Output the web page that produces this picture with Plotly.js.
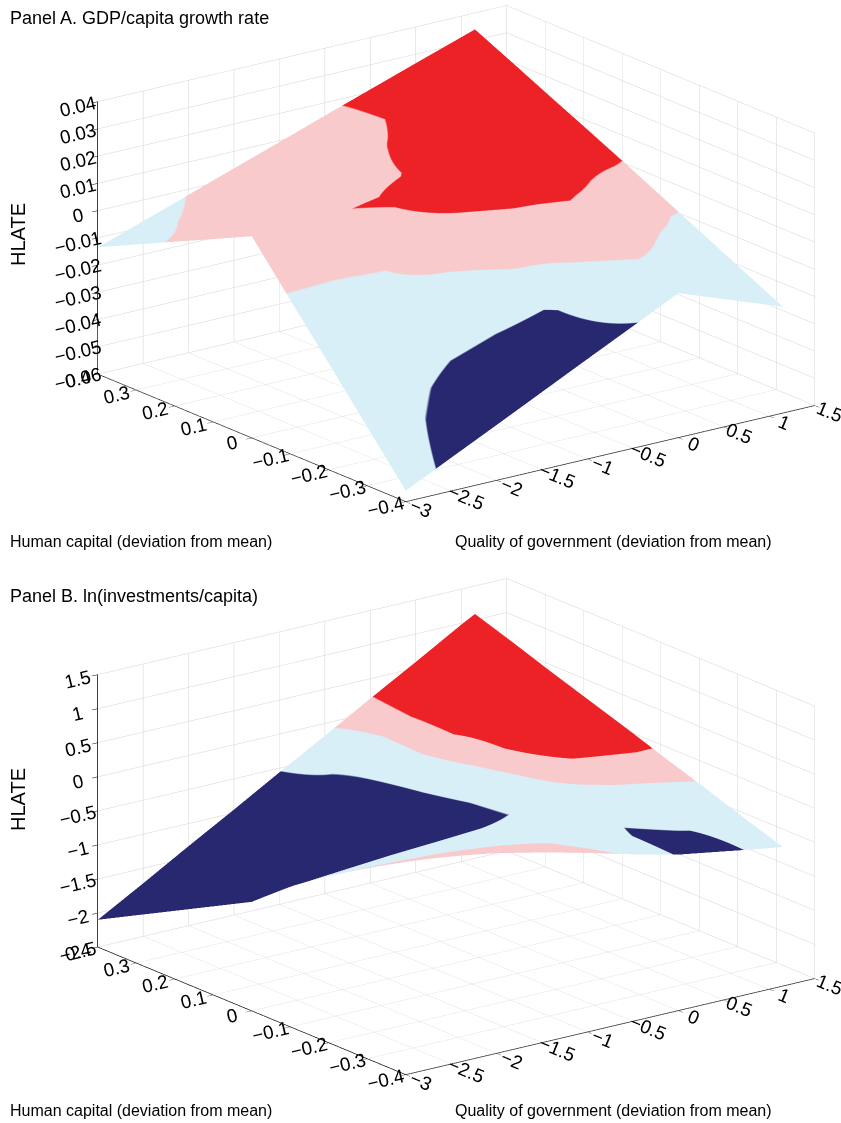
<!DOCTYPE html>
<html><head><meta charset="utf-8">
<script src="https://cdn.plot.ly/plotly-3.0.1.min.js"></script>
<style>html,body{margin:0;padding:0;background:#fff}#chart{width:841px;height:1123px}</style>
</head><body><div id="chart"></div>
<script>
// Grid of the surfaces (columns: quality of government, rows: human capital)
const QOG = [-3, -2.5, -2, -1.5, -1, -0.5, 0, 0.5, 1, 1.15];
const HC = [-0.4, -0.3, -0.2, -0.1, 0, 0.1, 0.2, 0.3, 0.4];

// Panel A: HLATE on GDP/capita growth rate
const ZA = [
  [-0.056, -0.0478, -0.0397, -0.0315, -0.0233, -0.0152, -0.007, -0.0131, -0.0192, -0.021],
  [-0.0385, -0.0322, -0.0259, -0.0196, -0.0133, -0.0070, -0.0008, -0.0065, -0.0123, -0.0140],
  [-0.021, -0.0166, -0.0122, -0.0078, -0.0033, 0.0011, 0.0055, 0.0001, -0.0054, -0.0070],
  [-0.0035, -0.0010, 0.0016, 0.0041, 0.0067, 0.0092, 0.0118, 0.0066, 0.0015, 0.0000],
  [0.014, 0.0147, 0.0153, 0.016, 0.0167, 0.0173, 0.018, 0.0132, 0.0084, 0.007],
  [0.0071, 0.0091, 0.0110, 0.0129, 0.0149, 0.0168, 0.0188, 0.0166, 0.0144, 0.0138],
  [0.0003, 0.0035, 0.0067, 0.0099, 0.0131, 0.0163, 0.0195, 0.0199, 0.0204, 0.0205],
  [-0.0066, -0.0021, 0.0023, 0.0068, 0.0113, 0.0158, 0.0203, 0.0233, 0.0263, 0.0273],
  [-0.0135, -0.0078, -0.0020, 0.0038, 0.0095, 0.0153, 0.021, 0.0267, 0.0323, 0.034]
];
// Panel A significance class (0-1 navy, 1-2 light blue, 2-3 pink, 3-4 red)
const SA = [
  [1.4, 0.8, 0.5, 0.4, 0.5, 0.95, 1.4, 1.3, 1.2, 1.2],
  [1.5, 1.1, 0.85, 0.85, 0.85, 1.6, 1.98, 1.7, 1.5, 1.45],
  [1.7, 1.6, 1.6, 1.6, 1.95, 2.2, 2.5, 2.1, 1.75, 1.75],
  [1.95, 1.98, 2.05, 2.43, 2.6, 2.9, 3.1, 2.7, 2.2, 2.1],
  [2.45, 2.5, 2.95, 3.1, 3.6, 3.8, 3.8, 3.3, 2.98, 2.9],
  [2.4, 2.5, 2.6, 2.6, 2.88, 3.6, 3.8, 3.7, 3.5, 3.4],
  [2.1, 2.3, 2.5, 2.5, 2.6, 3.15, 3.6, 3.7, 3.6, 3.5],
  [1.7, 2.03, 2.3, 2.4, 2.5, 2.7, 3.3, 3.5, 3.4, 3.3],
  [1.4, 1.7, 2.02, 2.3, 2.45, 2.85, 3.2, 3.3, 3.1, 3.05]
];

// Panel B: HLATE on ln(investments/capita)
const ZB = [
  [0.66, 0.55, 0.44, 0.29, 0.13, -0.05, -0.21, -0.32, -0.43, -0.46],
  [0.30, 0.25, 0.20, 0.12, 0.03, -0.07, -0.16, -0.21, -0.25, -0.27],
  [-0.05, -0.04, -0.04, -0.05, -0.07, -0.10, -0.12, -0.10, -0.08, -0.07],
  [-0.44, -0.37, -0.30, -0.24, -0.18, -0.13, -0.07, 0.02, 0.10, 0.12],
  [-0.90, -0.75, -0.61, -0.46, -0.31, -0.17, -0.02, 0.13, 0.27, 0.32],
  [-1.20, -0.99, -0.79, -0.58, -0.38, -0.17, 0.04, 0.24, 0.45, 0.51],
  [-1.50, -1.23, -0.97, -0.70, -0.44, -0.17, 0.09, 0.36, 0.62, 0.70],
  [-1.80, -1.48, -1.15, -0.83, -0.50, -0.18, 0.15, 0.47, 0.80, 0.90],
  [-2.10, -1.72, -1.33, -0.95, -0.56, -0.18, 0.21, 0.59, 0.98, 1.09]
];
const SB = [
  [2.8, 2.7, 2.6, 2.5, 2.3, 1.85, 0.9, 0.6, 1.5, 1.6],
  [2.5, 2.45, 2.4, 2.25, 2.02, 1.5, 0.9, 1.05, 1.5, 1.6],
  [1.9, 1.75, 1.6, 1.55, 1.6, 1.5, 1.15, 1.4, 1.7, 1.8],
  [0.7, 0.75, 0.8, 0.8, 0.8, 1.05, 1.6, 2.14, 2.5, 2.6],
  [0.3, 0.4, 0.45, 0.5, 0.6, 1.1, 1.95, 3.05, 3.6, 3.6],
  [0.2, 0.3, 0.4, 0.5, 0.6, 1.25, 2.32, 4.0, 4.0, 4.0],
  [0.2, 0.3, 0.45, 0.6, 0.7, 1.3, 2.85, 3.8, 3.9, 3.9],
  [0.2, 0.3, 0.45, 0.65, 0.9, 1.23, 2.95, 3.6, 3.8, 3.8],
  [0.2, 0.3, 0.45, 0.65, 0.98, 1.75, 2.95, 3.66, 3.8, 3.8]
];

const QOG_TICKS = [-3, -2.5, -2, -1.5, -1, -0.5, 0, 0.5, 1, 1.5];
const HC_TICKS = [-0.4, -0.3, -0.2, -0.1, 0, 0.1, 0.2, 0.3, 0.4];
const ZA_TICKS = [-0.06, -0.05, -0.04, -0.03, -0.02, -0.01, 0, 0.01, 0.02, 0.03, 0.04];
const ZB_TICKS = [-2.5, -2, -1.5, -1, -0.5, 0, 0.5, 1, 1.5];
const CLASS_COLORS = ['#27286f', '#d9eff8', '#f9cacb', '#ec2227'];

const TITLES = {
  a: 'Panel A. GDP/capita growth rate',
  b: 'Panel B. ln(investments/capita)',
  x: 'Quality of government (deviation from mean)',
  y: 'Human capital (deviation from mean)',
  z: 'HLATE'
};

const FONT = 'Liberation Sans, Arial, Helvetica, sans-serif';
const stepScale = [];
CLASS_COLORS.forEach((c, i) => { stepScale.push([i / 4, c]); stepScale.push([(i + 1) / 4, c]); });

function surf(z, s, scene) {
  return {
    type: 'surface', x: QOG, y: HC, z: z, surfacecolor: s, scene: scene,
    cmin: 0, cmax: 4, colorscale: stepScale, showscale: false, hoverinfo: 'skip',
    lighting: {ambient: 1, diffuse: 0, specular: 0, roughness: 1, fresnel: 0}
  };
}

function axis(range, tickvals) {
  return {
    range: range, autorange: false, tickvals: tickvals, title: {text: ''},
    showgrid: true, gridcolor: '#d4d4d4', gridwidth: 1,
    showline: true, linecolor: '#000', linewidth: 1.5,
    ticks: 'outside', ticklen: 7, tickcolor: '#000',
    tickfont: {family: FONT, size: 15, color: '#000'},
    showbackground: false, zeroline: false, showspikes: false
  };
}

function camera(cx, cy, cz) {
  return {
    eye: {x: -2.29 + cx, y: -3.04 + cy, z: 1.25 + cz}, up: {x: 0, y: 0, z: 1},
    center: {x: cx, y: cy, z: cz},
    projection: {type: 'orthographic'}
  };
}

function scene(domainY, zr, zt, cam) {
  return {
    domain: {x: [0, 1], y: domainY},
    xaxis: axis([-3, 1.5], QOG_TICKS),
    yaxis: axis([-0.4, 0.4], HC_TICKS),
    zaxis: axis(zr, zt),
    aspectmode: 'manual', aspectratio: {x: 1.9, y: 1.9, z: 1.064},
    camera: cam
  };
}

function px(x) { return x / 841; }
function py(y) { return 1 - y / 1123; }
function ann(text, x, y, opts) {
  return Object.assign({text: text, xref: 'paper', yref: 'paper', x: px(x), y: py(y),
    xanchor: 'left', yanchor: 'middle', showarrow: false,
    font: {family: FONT, size: 17, color: '#000'}}, opts || {});
}

const layout = {
  width: 841, height: 1123, margin: {l: 0, r: 0, t: 0, b: 0},
  paper_bgcolor: '#fff', showlegend: false,
  scene: scene([0.52, 1], [-0.06, 0.04], ZA_TICKS, camera(-0.117, 0.065, -0.056)),
  scene2: scene([0.006, 0.486], [-2.5, 1.5], ZB_TICKS, camera(-0.120, 0.061, -0.070)),
  annotations: [
    ann(TITLES.a, 8, 18, {font: {family: FONT, size: 18, color: '#000'}}),
    ann(TITLES.z, 18, 235, {xanchor: 'center', textangle: -90, font: {family: FONT, size: 20, color: '#000'}}),
    ann(TITLES.y, 8, 541, {font: {family: FONT, size: 16, color: '#000'}}),
    ann(TITLES.x, 453, 541, {font: {family: FONT, size: 16, color: '#000'}}),
    ann(TITLES.b, 8, 596, {font: {family: FONT, size: 18, color: '#000'}}),
    ann(TITLES.z, 18, 800, {xanchor: 'center', textangle: -90, font: {family: FONT, size: 20, color: '#000'}}),
    ann(TITLES.y, 8, 1110, {font: {family: FONT, size: 16, color: '#000'}}),
    ann(TITLES.x, 453, 1110, {font: {family: FONT, size: 16, color: '#000'}})
  ]
};

Plotly.newPlot('chart', [surf(ZA, SA, 'scene'), surf(ZB, SB, 'scene2')], layout,
  {displayModeBar: false});
</script>
</body></html>
